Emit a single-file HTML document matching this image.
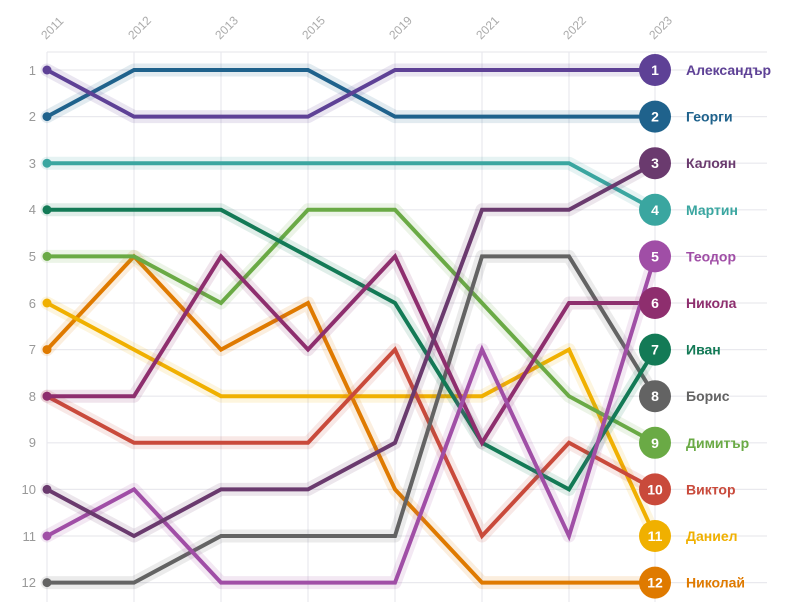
<!DOCTYPE html>
<html><head><meta charset="utf-8"><style>
html,body{margin:0;padding:0;background:#fff;}
svg{display:block;font-family:"Liberation Sans","DejaVu Sans",sans-serif;}
.h{fill:none;stroke-width:13;stroke-opacity:0.13;stroke-linejoin:round;stroke-linecap:round}
.l{fill:none;stroke-width:4;stroke-linejoin:miter}
.yl{fill:#999;font-size:13px;text-anchor:end}
.xl{fill:#aaa;font-size:12px}
.n{fill:#fff;font-size:14px;font-weight:bold;text-anchor:middle}
.lb{font-size:14px;font-weight:bold}
</style></head><body>
<svg width="800" height="612" viewBox="0 0 800 612">
<g stroke="#e9e9ee" stroke-width="1.2">
<line x1="47" y1="52" x2="767" y2="52"/>
<line x1="47" y1="70" x2="767" y2="70"/><line x1="47" y1="116.6" x2="767" y2="116.6"/><line x1="47" y1="163.2" x2="767" y2="163.2"/><line x1="47" y1="209.8" x2="767" y2="209.8"/><line x1="47" y1="256.4" x2="767" y2="256.4"/><line x1="47" y1="303" x2="767" y2="303"/><line x1="47" y1="349.6" x2="767" y2="349.6"/><line x1="47" y1="396.2" x2="767" y2="396.2"/><line x1="47" y1="442.8" x2="767" y2="442.8"/><line x1="47" y1="489.4" x2="767" y2="489.4"/><line x1="47" y1="536" x2="767" y2="536"/><line x1="47" y1="582.6" x2="767" y2="582.6"/>
<line x1="47" y1="52" x2="47" y2="602"/><line x1="134" y1="52" x2="134" y2="602"/><line x1="221" y1="52" x2="221" y2="602"/><line x1="308" y1="52" x2="308" y2="602"/><line x1="395" y1="52" x2="395" y2="602"/><line x1="482" y1="52" x2="482" y2="602"/><line x1="569" y1="52" x2="569" y2="602"/><line x1="655" y1="52" x2="655" y2="602"/>
</g>
<g class="yl">
<text x="36" y="75">1</text><text x="36" y="121">2</text><text x="36" y="168">3</text><text x="36" y="214">4</text><text x="36" y="261">5</text><text x="36" y="308">6</text><text x="36" y="354">7</text><text x="36" y="401">8</text><text x="36" y="447">9</text><text x="36" y="494">10</text><text x="36" y="541">11</text><text x="36" y="587">12</text>
</g>
<g class="xl">
<text transform="translate(46,40) rotate(-45)">2011</text>
<text transform="translate(133,40) rotate(-45)">2012</text>
<text transform="translate(220,40) rotate(-45)">2013</text>
<text transform="translate(307,40) rotate(-45)">2015</text>
<text transform="translate(394,40) rotate(-45)">2019</text>
<text transform="translate(481,40) rotate(-45)">2021</text>
<text transform="translate(568,40) rotate(-45)">2022</text>
<text transform="translate(654,40) rotate(-45)">2023</text>
</g>

<!-- series -->
<g stroke="#df7a00" fill="#df7a00"><polyline class="h" points="47,349.6 134,256.4 221,349.6 308,303 395,489.4 482,582.6 569,582.6 655,582.6"/><polyline class="l" points="47,349.6 134,256.4 221,349.6 308,303 395,489.4 482,582.6 569,582.6 655,582.6"/><circle cx="47" cy="349.6" r="4.5" stroke="none"/></g>
<g stroke="#f0b000" fill="#f0b000"><polyline class="h" points="47,303 134,349.6 221,396.2 308,396.2 395,396.2 482,396.2 569,349.6 655,536"/><polyline class="l" points="47,303 134,349.6 221,396.2 308,396.2 395,396.2 482,396.2 569,349.6 655,536"/><circle cx="47" cy="303" r="4.5" stroke="none"/></g>
<g stroke="#c94a3b" fill="#c94a3b"><polyline class="h" points="47,396.2 134,442.8 221,442.8 308,442.8 395,349.6 482,536 569,442.8 655,489.4"/><polyline class="l" points="47,396.2 134,442.8 221,442.8 308,442.8 395,349.6 482,536 569,442.8 655,489.4"/><circle cx="47" cy="396.2" r="4.5" stroke="none"/></g>
<g stroke="#6aaa45" fill="#6aaa45"><polyline class="h" points="47,256.4 134,256.4 221,303 308,209.8 395,209.8 482,303 569,396.2 655,442.8"/><polyline class="l" points="47,256.4 134,256.4 221,303 308,209.8 395,209.8 482,303 569,396.2 655,442.8"/><circle cx="47" cy="256.4" r="4.5" stroke="none"/></g>
<g stroke="#636363" fill="#636363"><polyline class="h" points="47,582.6 134,582.6 221,536 308,536 395,536 482,256.4 569,256.4 655,396.2"/><polyline class="l" points="47,582.6 134,582.6 221,536 308,536 395,536 482,256.4 569,256.4 655,396.2"/><circle cx="47" cy="582.6" r="4.5" stroke="none"/></g>
<g stroke="#137a56" fill="#137a56"><polyline class="h" points="47,209.8 134,209.8 221,209.8 308,256.4 395,303 482,442.8 569,489.4 655,349.6"/><polyline class="l" points="47,209.8 134,209.8 221,209.8 308,256.4 395,303 482,442.8 569,489.4 655,349.6"/><circle cx="47" cy="209.8" r="4.5" stroke="none"/></g>
<g stroke="#8e2e6e" fill="#8e2e6e"><polyline class="h" points="47,396.2 134,396.2 221,256.4 308,349.6 395,256.4 482,442.8 569,303 655,303"/><polyline class="l" points="47,396.2 134,396.2 221,256.4 308,349.6 395,256.4 482,442.8 569,303 655,303"/><circle cx="47" cy="396.2" r="4.5" stroke="none"/></g>
<g stroke="#a04ea6" fill="#a04ea6"><polyline class="h" points="47,536 134,489.4 221,582.6 308,582.6 395,582.6 482,349.6 569,536 655,256.4"/><polyline class="l" points="47,536 134,489.4 221,582.6 308,582.6 395,582.6 482,349.6 569,536 655,256.4"/><circle cx="47" cy="536" r="4.5" stroke="none"/></g>
<g stroke="#3aa6a0" fill="#3aa6a0"><polyline class="h" points="47,163.2 134,163.2 221,163.2 308,163.2 395,163.2 482,163.2 569,163.2 655,209.8"/><polyline class="l" points="47,163.2 134,163.2 221,163.2 308,163.2 395,163.2 482,163.2 569,163.2 655,209.8"/><circle cx="47" cy="163.2" r="4.5" stroke="none"/></g>
<g stroke="#6a3a6e" fill="#6a3a6e"><polyline class="h" points="47,489.4 134,536 221,489.4 308,489.4 395,442.8 482,209.8 569,209.8 655,163.2"/><polyline class="l" points="47,489.4 134,536 221,489.4 308,489.4 395,442.8 482,209.8 569,209.8 655,163.2"/><circle cx="47" cy="489.4" r="4.5" stroke="none"/></g>
<g stroke="#1f628c" fill="#1f628c"><polyline class="h" points="47,116.6 134,70 221,70 308,70 395,116.6 482,116.6 569,116.6 655,116.6"/><polyline class="l" points="47,116.6 134,70 221,70 308,70 395,116.6 482,116.6 569,116.6 655,116.6"/><circle cx="47" cy="116.6" r="4.5" stroke="none"/></g>
<g stroke="#5e4196" fill="#5e4196"><polyline class="h" points="47,70 134,116.6 221,116.6 308,116.6 395,70 482,70 569,70 655,70"/><polyline class="l" points="47,70 134,116.6 221,116.6 308,116.6 395,70 482,70 569,70 655,70"/><circle cx="47" cy="70" r="4.5" stroke="none"/></g>

<!-- end circles -->
<g>
<circle cx="655" cy="70" r="16" fill="#5e4196"/><text class="n" x="655" y="75">1</text>
<circle cx="655" cy="116.6" r="16" fill="#1f628c"/><text class="n" x="655" y="121.6">2</text>
<circle cx="655" cy="163.2" r="16" fill="#6a3a6e"/><text class="n" x="655" y="168.2">3</text>
<circle cx="655" cy="209.8" r="16" fill="#3aa6a0"/><text class="n" x="655" y="214.8">4</text>
<circle cx="655" cy="256.4" r="16" fill="#a04ea6"/><text class="n" x="655" y="261.4">5</text>
<circle cx="655" cy="303" r="16" fill="#8e2e6e"/><text class="n" x="655" y="308">6</text>
<circle cx="655" cy="349.6" r="16" fill="#137a56"/><text class="n" x="655" y="354.6">7</text>
<circle cx="655" cy="396.2" r="16" fill="#636363"/><text class="n" x="655" y="401.2">8</text>
<circle cx="655" cy="442.8" r="16" fill="#6aaa45"/><text class="n" x="655" y="447.8">9</text>
<circle cx="655" cy="489.4" r="16" fill="#c94a3b"/><text class="n" x="655" y="494.4">10</text>
<circle cx="655" cy="536" r="16" fill="#f0b000"/><text class="n" x="655" y="541">11</text>
<circle cx="655" cy="582.6" r="16" fill="#df7a00"/><text class="n" x="655" y="587.6">12</text>
</g>
<g class="lb">
<text x="686" y="75" fill="#5e4196">Александър</text>
<text x="686" y="121.6" fill="#1f628c">Георги</text>
<text x="686" y="168.2" fill="#6a3a6e">Калоян</text>
<text x="686" y="214.8" fill="#3aa6a0">Мартин</text>
<text x="686" y="261.4" fill="#a04ea6">Теодор</text>
<text x="686" y="308" fill="#8e2e6e">Никола</text>
<text x="686" y="354.6" fill="#137a56">Иван</text>
<text x="686" y="401.2" fill="#636363">Борис</text>
<text x="686" y="447.8" fill="#6aaa45">Димитър</text>
<text x="686" y="494.4" fill="#c94a3b">Виктор</text>
<text x="686" y="541" fill="#f0b000">Даниел</text>
<text x="686" y="587.6" fill="#df7a00">Николай</text>
</g>
</svg>
</body></html>
